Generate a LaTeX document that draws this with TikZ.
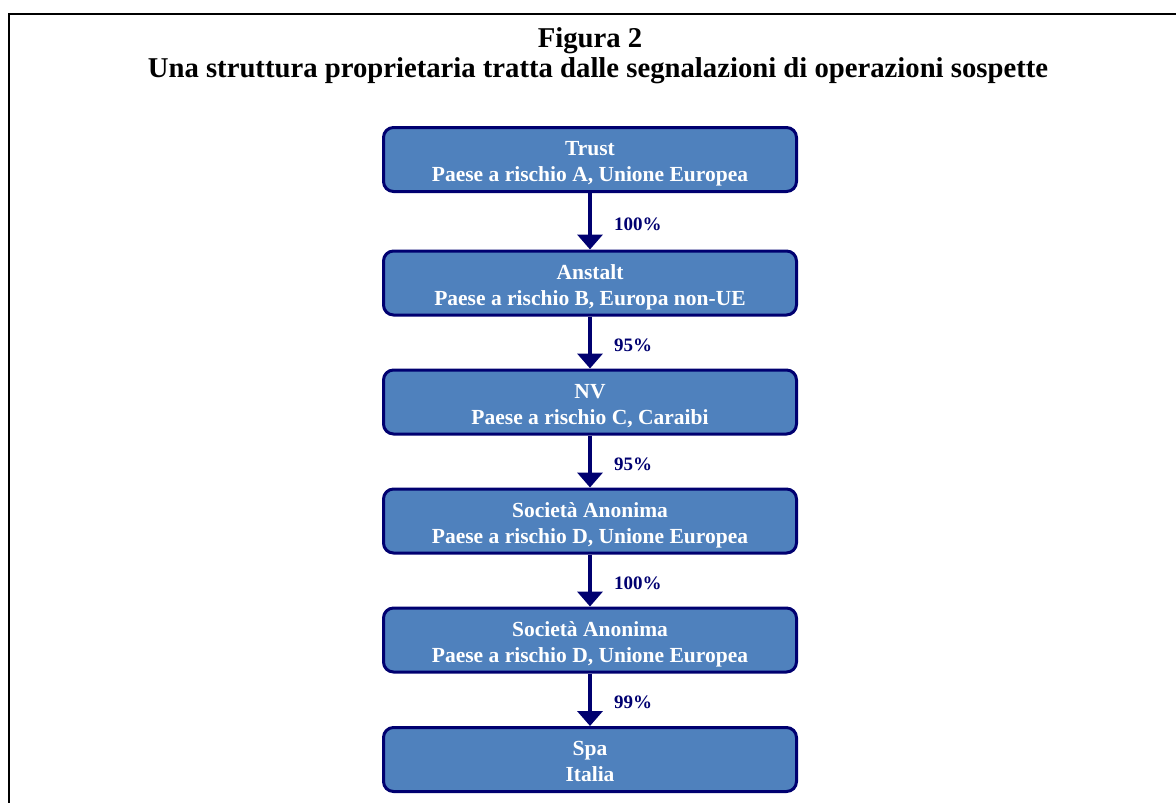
\documentclass[tikz,border=0pt]{standalone}
\usepackage{fontspec}
\setmainfont{Liberation Serif}
\usetikzlibrary{arrows.meta}
\definecolor{boxblue}{HTML}{4F81BD}
\definecolor{navy}{HTML}{000070}
\newcommand{\twolines}[2]{\rule{0pt}{23pt}#1\\#2\rule[-5pt]{0pt}{5pt}}
\tikzset{
  entity/.style={draw=navy, line width=3pt, fill=boxblue, rounded corners=10pt,
    minimum width=413pt, minimum height=64pt, inner sep=0pt, align=center,
    text=white, font=\bfseries\fontsize{21.5}{26}\selectfont},
  own/.style={draw=navy, line width=4pt, -{Triangle[width=25pt,length=15pt]}},
  pct/.style={anchor=west, text=navy, inner sep=0pt, font=\bfseries\fontsize{19}{22}\selectfont},
  titletext/.style={anchor=base, inner sep=0pt, font=\bfseries\fontsize{28.7}{32}\selectfont},
  frameline/.style={line width=2.5pt, black}
}
\begin{document}
\begin{tikzpicture}[x=1pt,y=-1pt]
\useasboundingbox (0,0) rectangle (1176,803);
\coordinate (fl) at (9,803);
\coordinate (fc) at (9,14);
\coordinate (fr) at (1176,14);
\draw[frameline] (fl) -- (fc) -- (fr);
\node[titletext] (t1) at (590,47) {Figura 2};
\node[titletext] (t2) at (598,77.5) {Una struttura proprietaria tratta dalle segnalazioni di operazioni sospette};
\node[entity] (b1) at (590,159.5) {\twolines{Trust}{Paese a rischio A, Unione Europea}};
\node[entity] (b2) at (590,283) {\twolines{Anstalt}{Paese a rischio B, Europa non-UE}};
\node[entity] (b3) at (590,402) {\twolines{NV}{Paese a rischio C, Caraibi}};
\node[entity] (b4) at (590,521) {\twolines{Società Anonima}{Paese a rischio D, Unione Europea}};
\node[entity] (b5) at (590,640) {\twolines{Società Anonima}{Paese a rischio D, Unione Europea}};
\node[entity] (b6) at (590,759.5) {\twolines{Spa}{Italia}};
\draw[own] (b1.south) -- (b2.north);
\draw[own] (b2.south) -- (b3.north);
\draw[own] (b3.south) -- (b4.north);
\draw[own] (b4.south) -- (b5.north);
\draw[own] (b5.south) -- (b6.north);
\node[pct] (p1) at (614,224) {100\%};
\node[pct] (p2) at (614,345) {95\%};
\node[pct] (p3) at (614,464) {95\%};
\node[pct] (p4) at (614,583) {100\%};
\node[pct] (p5) at (614,702) {99\%};
\end{tikzpicture}
\end{document}
